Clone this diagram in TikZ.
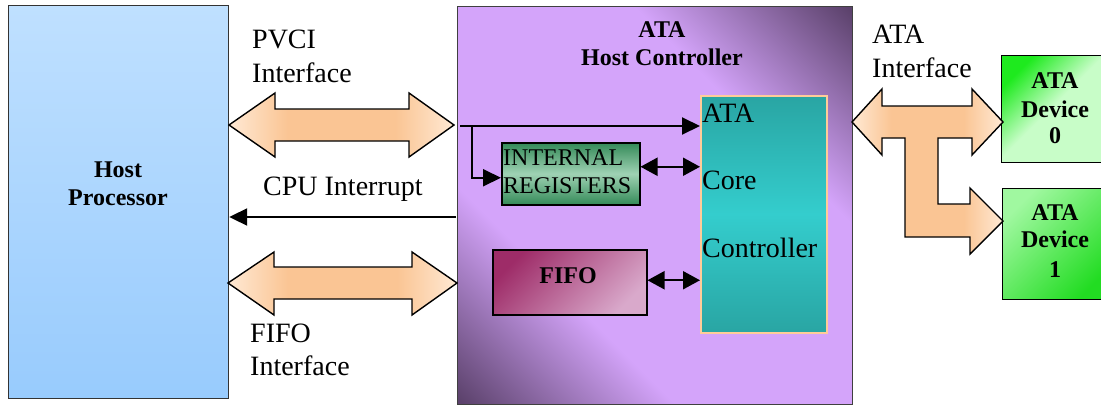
\documentclass[tikz,border=0pt]{standalone}
\usepackage{fontspec}
\setmainfont{Liberation Serif}
\usetikzlibrary{arrows.meta}

\definecolor{hosttop}{HTML}{BFE0FF}
\definecolor{hostbot}{HTML}{98CBFD}
\definecolor{hcdark}{HTML}{5C426C}
\definecolor{hclight}{HTML}{D4A4FA}
\definecolor{coreedge}{HTML}{29A5A3}
\definecolor{coremid}{HTML}{34CDCD}
\definecolor{coreline}{HTML}{FFCC99}
\definecolor{regdark}{HTML}{348A58}
\definecolor{reglight}{HTML}{9FD2B4}
\definecolor{fifodark}{HTML}{9E2C68}
\definecolor{fifolight}{HTML}{D9A9CB}
\definecolor{devbright}{HTML}{1EEA1E}
\definecolor{devlight}{HTML}{C8FDC8}
\definecolor{devonetop}{HTML}{A0F8A0}
\definecolor{devonebot}{HTML}{22DC22}
\definecolor{buslight}{HTML}{FFE9D4}
\definecolor{busmid}{HTML}{FAC594}

% light band between two dark corners
\pgfdeclareverticalshading{hcshade}{100bp}{color(0bp)=(hcdark); color(15bp)=(hcdark); color(34bp)=(hclight); color(66bp)=(hclight); color(85bp)=(hcdark); color(100bp)=(hcdark)}
% bright corner fading into a pale body
\pgfdeclareverticalshading{devshade}{100bp}{color(0bp)=(devlight); color(25bp)=(devlight); color(52bp)=(devlight); color(75bp)=(devbright); color(100bp)=(devbright)}
% bus arrows: pale ends, peach body
\pgfdeclarehorizontalshading{busshade}{100bp}{color(0bp)=(buslight); color(25bp)=(buslight); color(38bp)=(busmid); color(62bp)=(busmid); color(75bp)=(buslight); color(100bp)=(buslight)}

\begin{document}
\begin{tikzpicture}[x=1pt,y=-1pt,
  box/.style={rectangle, inner sep=0pt, anchor=north west},
  conn/.style={line width=2pt, -{Triangle[length=18pt,width=17pt]}},
  biconn/.style={line width=2pt, {Triangle[length=17pt,width=18pt]}-{Triangle[length=17pt,width=18pt]}},
  bus/.style={draw=black, line width=1.4pt, line join=miter, shading=busshade},
  lbl/.style={font=\fontsize{28}{32}\selectfont, inner sep=0pt, anchor=base west},
  blbl/.style={font=\fontsize{24}{28}\selectfont\bfseries, inner sep=0pt, anchor=base},
  reglbl/.style={font=\fontsize{24}{28}\selectfont, inner sep=0pt, anchor=base west}
]
\useasboundingbox (0,0) rectangle (1101,405);
\clip (0,0) rectangle (1101,405);

% ---- blocks ----
\node[box, minimum width=220pt, minimum height=393pt, draw=black!80, line width=1.2pt,
      top color=hosttop, bottom color=hostbot] (host) at (8,5) {};
\node[box, minimum width=395pt, minimum height=398pt, draw=black!75, line width=1.2pt,
      shading=hcshade, shading angle=-45] (hc) at (457,6) {};
\node[box, minimum width=126pt, minimum height=237pt, draw=coreline, line width=1.5pt,
      top color=coreedge, bottom color=coreedge, middle color=coremid] (core) at (700,95) {};
\node[box, minimum width=138pt, minimum height=62pt, draw=black, line width=1.5pt,
      top color=regdark, bottom color=regdark, middle color=reglight] (regs) at (501,142) {};
\node[box, minimum width=154pt, minimum height=65pt, draw=black, line width=1.5pt,
      top color=fifodark, bottom color=fifolight, shading angle=45] (fifo) at (492,249) {};
\node[box, minimum width=108pt, minimum height=107pt, draw=black, line width=1.4pt,
      shading=devshade, shading angle=45] (dev0) at (1001,55) {};
\node[box, minimum width=107pt, minimum height=111pt, draw=black, line width=1.4pt,
      top color=devonetop, bottom color=devonebot, shading angle=45] (dev1) at (1002,188) {};

% ---- block arrows (buses) ----
\path[bus]
  (229,125) -- (275,93) -- (275,109) -- (409,109) -- (409,93) -- (454,125)
  -- (409,157) -- (409,141) -- (275,141) -- (275,157) -- cycle;
\path[bus]
  (228,283) -- (274,252) -- (274,267) -- (412,267) -- (412,252) -- (457,283)
  -- (412,315) -- (412,299) -- (274,299) -- (274,315) -- cycle;
\path[bus]
  (852,122) -- (882,89) -- (882,106) -- (972,106) -- (972,89) -- (1003,122)
  -- (972,155) -- (972,138) -- (938,138) -- (938,204) -- (970,204) -- (970,188)
  -- (1003,221) -- (970,254) -- (970,237) -- (905,237) -- (905,138)
  -- (882,138) -- (882,155) -- cycle;

% ---- connectors ----
\coordinate (tap) at (460,126);
\coordinate (split) at (472,126);
\coordinate (irq) at (456,217);
\draw[conn] (tap) -- (tap -| core.west);
\draw[conn, line join=miter] (split) |- ([yshift=-4pt]regs.west);
\draw[biconn] ([yshift=7pt]regs.east) -- ([yshift=7pt]regs.east -| core.west);
\draw[biconn] ([yshift=2pt]fifo.east) -- ([yshift=2pt]fifo.east -| core.west);
\draw[conn] (irq) -- (irq -| host.east);

% ---- labels ----
\node[blbl] (hostA) at (118,177) {Host};
\node[blbl] (hostB) at (118,205) {Processor};
\node[lbl] (pvciA) at (252,48) {PVCI};
\node[lbl] (pvciB) at (252,82) {Interface};
\node[lbl] (cpuirq) at (263,195) {CPU Interrupt};
\node[lbl] (fifoifA) at (250,342) {FIFO};
\node[lbl] (fifoifB) at (250,375) {Interface};
\node[blbl] (hcA) at (662,37) {ATA};
\node[blbl] (hcB) at (662,65) {Host Controller};
\node[lbl] (coreA) at (702,122) {ATA};
\node[lbl] (coreB) at (702,189) {Core};
\node[lbl] (coreC) at (702,257) {Controller};
\node[reglbl] (regA) at (503,165) {INTERNAL};
\node[reglbl] (regB) at (503,193) {REGISTERS};
\node[blbl] (fifotxt) at (568,283) {FIFO};
\node[lbl] (ataifA) at (872,43) {ATA};
\node[lbl] (ataifB) at (872,77) {Interface};
\node[blbl] (d0A) at (1055,88) {ATA};
\node[blbl] (d0B) at (1055,117) {Device};
\node[blbl] (d0C) at (1055,143) {0};
\node[blbl] (d1A) at (1055,220) {ATA};
\node[blbl] (d1B) at (1055,247) {Device};
\node[blbl] (d1C) at (1055,277) {1};
\end{tikzpicture}
\end{document}
